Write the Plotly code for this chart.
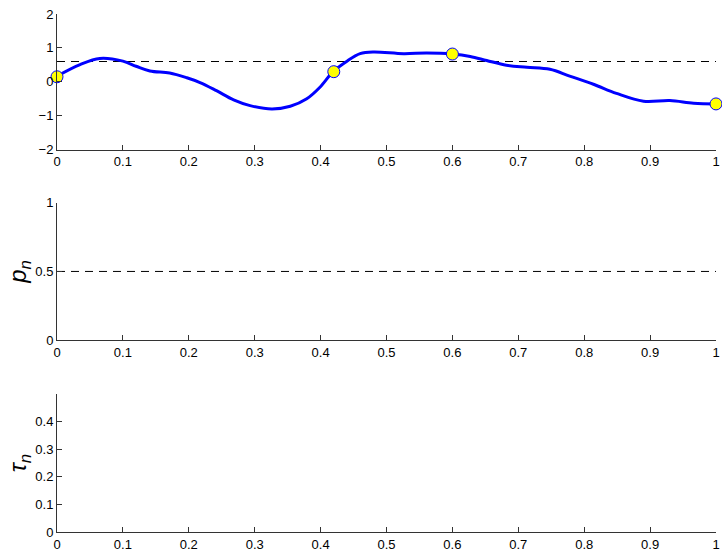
import plotly.graph_objects as go

# curve (top panel)
curve_x = [0.0, 0.035, 0.065, 0.10, 0.12, 0.141, 0.171, 0.197, 0.217, 0.242, 0.268, 0.293,
           0.326, 0.354, 0.379, 0.399, 0.419, 0.44, 0.46, 0.48, 0.526, 0.561, 0.60, 0.627,
           0.652, 0.682, 0.713, 0.748, 0.778, 0.814, 0.849, 0.89, 0.93, 0.966, 1.0]
curve_y = [0.17, 0.51, 0.69, 0.61, 0.46, 0.32, 0.26, 0.12, -0.02, -0.26, -0.53, -0.70,
           -0.80, -0.72, -0.50, -0.16, 0.30, 0.61, 0.83, 0.88, 0.83, 0.85, 0.82, 0.75,
           0.63, 0.49, 0.43, 0.37, 0.17, -0.07, -0.34, -0.57, -0.55, -0.63, -0.65]

# sample points
pts_x = [0.0, 0.42, 0.60, 1.0]
pts_y = [0.15, 0.30, 0.82, -0.65]

# thresholds
thr_top = 0.6
thr_mid = 0.5

x_ticks = [0, 0.1, 0.2, 0.3, 0.4, 0.5, 0.6, 0.7, 0.8, 0.9, 1]
x_labels = ["0", "0.1", "0.2", "0.3", "0.4", "0.5", "0.6", "0.7", "0.8", "0.9", "1"]
top_yticks = [-2, -1, 0, 1, 2]
top_ylabels = ["\u22122", "\u22121", "0", "1", "2"]
mid_yticks = [0, 0.5, 1]
mid_ylabels = ["0", "0.5", "1"]
bot_yticks = [0, 0.1, 0.2, 0.3, 0.4]
bot_ylabels = ["0", "0.1", "0.2", "0.3", "0.4"]

FONT = "Liberation Sans, Arial, Helvetica, sans-serif"

fig = go.Figure()
fig.add_trace(go.Scatter(x=[0, 1], y=[thr_top, thr_top], mode="lines",
                         line=dict(color="black", width=1, dash="8px,6px"),
                         xaxis="x", yaxis="y", hoverinfo="skip"))
fig.add_trace(go.Scatter(x=curve_x, y=curve_y, mode="lines",
                         line=dict(color="#0000ff", width=3, shape="spline", smoothing=1.0),
                         xaxis="x", yaxis="y"))
fig.add_trace(go.Scatter(x=pts_x, y=pts_y, mode="markers", cliponaxis=False,
                         marker=dict(color="#ffff00", size=12, line=dict(color="#0000ff", width=1)),
                         xaxis="x", yaxis="y"))
fig.add_trace(go.Scatter(x=[0, 1], y=[thr_mid, thr_mid], mode="lines",
                         line=dict(color="black", width=1, dash="8px,6px"),
                         xaxis="x2", yaxis="y2", hoverinfo="skip"))
fig.add_trace(go.Scatter(x=[], y=[], mode="lines", xaxis="x3", yaxis="y3"))

def xax(anchor):
    return dict(range=[0, 1], tickvals=x_ticks, ticktext=x_labels, ticks="inside", ticklen=5,
                tickcolor="#333", showline=True, linecolor="#333", linewidth=1,
                showgrid=False, zeroline=False, anchor=anchor, automargin=False,
                tickfont=dict(family=FONT, size=13, color="black"), domain=[0, 1])

def yax(anchor, rng, tv, tt, dom, title=None):
    d = dict(range=rng, tickvals=tv, ticktext=tt, ticks="inside", ticklen=5, tickcolor="#333",
             showline=True, linecolor="#333", linewidth=1, showgrid=False, zeroline=False,
             anchor=anchor, domain=dom, automargin=False,
             tickfont=dict(family=FONT, size=13, color="black"))
    if title:
        d["title"] = dict(text=title, font=dict(family=FONT, size=24, color="black"), standoff=0)
    return d

top_dom = [0.738, 1.0]
mid_dom = [0.370, 0.636]
bot_dom = [0.0, 0.266]

fig.update_layout(
    width=722, height=552,
    margin=dict(l=57, r=6, t=14, b=20),
    paper_bgcolor="white", plot_bgcolor="white",
    showlegend=False,
    xaxis=xax("y"), yaxis=yax("x", [-2, 2], top_yticks, top_ylabels, top_dom),
    xaxis2=xax("y2"), yaxis2=yax("x2", [0, 1], mid_yticks, mid_ylabels, mid_dom, "<i>p<sub>n</sub></i>"),
    xaxis3=xax("y3"), yaxis3=yax("x3", [0, 0.5], bot_yticks, bot_ylabels, bot_dom, "<i>τ<sub>n</sub></i>"),
)

fig.write_html("out.html")
